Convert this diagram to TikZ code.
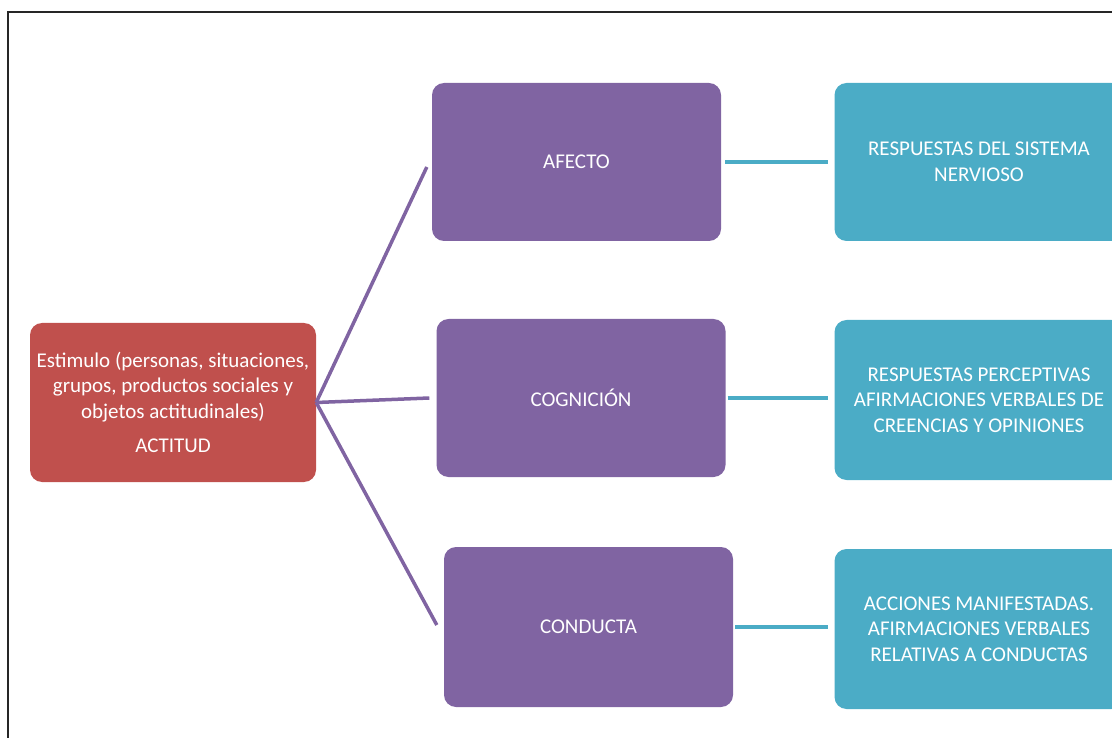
\documentclass[tikz,border=0pt]{standalone}
\usepackage{fontspec}
\setmainfont{Carlito}
\definecolor{redbox}{HTML}{C0504D}
\definecolor{purplebox}{HTML}{8064A2}
\definecolor{tealbox}{HTML}{4BACC6}
\begin{document}
\begin{tikzpicture}[x=1pt,y=-1pt,
  box/.style={rounded corners=12pt, minimum width=289pt, minimum height=158pt,
    inner sep=0pt, text=white, align=center, font=\fontsize{21}{25.5}\selectfont},
  redstyle/.style={box, fill=redbox, minimum width=286pt, minimum height=159pt},
  purplestyle/.style={box, fill=purplebox},
  tealstyle/.style={box, fill=tealbox, minimum height=160pt},
  plink/.style={draw=purplebox, line width=3.5pt},
  tlink/.style={draw=tealbox, line width=4.5pt}]
\useasboundingbox (0,0) rectangle (1112,738);
\clip (0,0) rectangle (1112,738);
\draw[line width=2pt, black!85] (8,745) -- (8,12) -- (1120,12);

\node[redstyle] (stim) at (173,402.5) {Estimulo (personas, situaciones,\\ grupos, productos sociales y\\ objetos actitudinales)\\[9pt] ACTITUD};

\node[purplestyle] (afecto) at (576.5,162) {AFECTO};
\node[purplestyle] (cog) at (581,398) {COGNICIÓN};
\node[purplestyle, minimum height=160pt] (cond) at (588.5,627) {CONDUCTA};

\node[tealstyle, minimum height=158pt] (t1) at (979,162) {RESPUESTAS DEL SISTEMA\\ NERVIOSO};
\node[tealstyle] (t2) at (979,400) {RESPUESTAS PERCEPTIVAS\\ AFIRMACIONES VERBALES DE\\ CREENCIAS Y OPINIONES};
\node[tealstyle] (t3) at (979,629) {ACCIONES MANIFESTADAS.\\ AFIRMACIONES VERBALES\\ RELATIVAS A CONDUCTAS};

\draw[plink] (stim.east) -- ([xshift=-5pt,yshift=-5pt]afecto.west);
\draw[plink] (stim.east) -- ([xshift=-7pt]cog.west);
\draw[plink] (stim.east) -- ([xshift=-7pt,yshift=2pt]cond.west);

\draw[tlink, shorten <=4pt, shorten >=6pt] (afecto.east) -- (t1.west |- afecto.east);
\draw[tlink, shorten <=2pt, shorten >=6pt] (cog.east) -- (t2.west |- cog.east);
\draw[tlink, shorten <=2pt, shorten >=6pt] (cond.east) -- (t3.west |- cond.east);
\end{tikzpicture}
\end{document}
